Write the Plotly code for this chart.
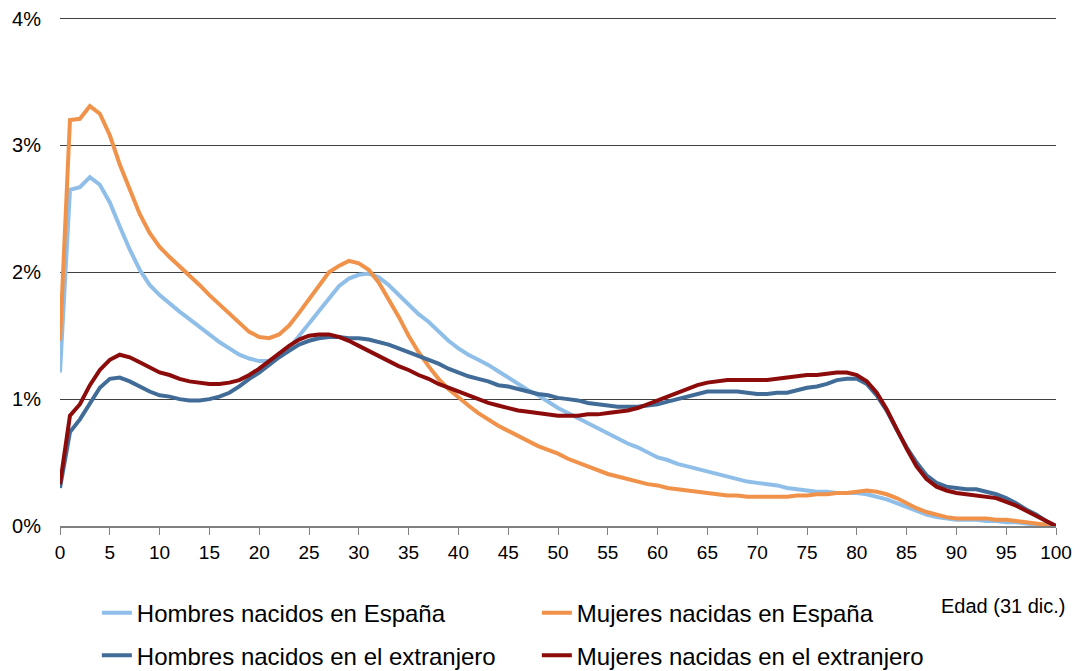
import plotly.graph_objects as go

edades = list(range(0, 101))

hombres_espana = [
    1.21, 2.65, 2.67, 2.75, 2.69, 2.55, 2.36, 2.18, 2.02, 1.90,
    1.82, 1.75, 1.69, 1.63, 1.57, 1.51, 1.45, 1.40, 1.35, 1.32,
    1.30, 1.30, 1.34, 1.40, 1.50, 1.60, 1.70, 1.80, 1.89, 1.95,
    1.98, 1.99, 1.96, 1.90, 1.82, 1.74, 1.67, 1.61, 1.53, 1.46,
    1.40, 1.35, 1.31, 1.27, 1.22, 1.17, 1.12, 1.07, 1.03, 0.98,
    0.93, 0.89, 0.85, 0.81, 0.77, 0.73, 0.69, 0.65, 0.62, 0.58,
    0.54, 0.52, 0.49, 0.47, 0.45, 0.43, 0.41, 0.39, 0.37, 0.35,
    0.34, 0.33, 0.32, 0.30, 0.29, 0.28, 0.27, 0.27, 0.26, 0.26,
    0.26, 0.25, 0.23, 0.21, 0.18, 0.15, 0.12, 0.09, 0.07, 0.06,
    0.05, 0.05, 0.05, 0.04, 0.04, 0.03, 0.03, 0.02, 0.01, 0.01,
    0.00,
]

mujeres_espana = [
    1.46, 3.20, 3.21, 3.31, 3.25, 3.08, 2.85, 2.65, 2.46, 2.31,
    2.20, 2.12, 2.05, 1.98, 1.90, 1.82, 1.75, 1.67, 1.60, 1.53,
    1.49, 1.48, 1.51, 1.58, 1.68, 1.79, 1.90, 2.00, 2.05, 2.09,
    2.07, 2.02, 1.92, 1.79, 1.65, 1.50, 1.37, 1.26, 1.16, 1.08,
    1.01, 0.95, 0.89, 0.84, 0.79, 0.75, 0.71, 0.67, 0.63, 0.60,
    0.57, 0.53, 0.50, 0.47, 0.44, 0.41, 0.39, 0.37, 0.35, 0.33,
    0.32, 0.30, 0.29, 0.28, 0.27, 0.26, 0.25, 0.24, 0.24, 0.23,
    0.23, 0.23, 0.23, 0.23, 0.24, 0.24, 0.25, 0.25, 0.26, 0.26,
    0.27, 0.28, 0.27, 0.25, 0.22, 0.18, 0.14, 0.11, 0.09, 0.07,
    0.06, 0.06, 0.06, 0.06, 0.05, 0.05, 0.04, 0.03, 0.02, 0.01,
    0.00,
]

hombres_extranjero = [
    0.30, 0.74, 0.84, 0.97, 1.09, 1.16, 1.17, 1.14, 1.10, 1.06,
    1.03, 1.02, 1.00, 0.99, 0.99, 1.00, 1.02, 1.05, 1.10, 1.16,
    1.21, 1.27, 1.33, 1.38, 1.43, 1.46, 1.48, 1.49, 1.49, 1.48,
    1.48, 1.47, 1.45, 1.43, 1.40, 1.37, 1.34, 1.31, 1.28, 1.24,
    1.21, 1.18, 1.16, 1.14, 1.11, 1.10, 1.08, 1.06, 1.04, 1.03,
    1.01, 1.00, 0.99, 0.97, 0.96, 0.95, 0.94, 0.94, 0.94, 0.95,
    0.96, 0.98, 1.00, 1.02, 1.04, 1.06, 1.06, 1.06, 1.06, 1.05,
    1.04, 1.04, 1.05, 1.05, 1.07, 1.09, 1.10, 1.12, 1.15, 1.16,
    1.16, 1.12, 1.03, 0.91, 0.76, 0.62, 0.50, 0.40, 0.34, 0.31,
    0.30, 0.29, 0.29, 0.27, 0.25, 0.22, 0.18, 0.13, 0.09, 0.04,
    0.00,
]

mujeres_extranjero = [
    0.33, 0.87, 0.96, 1.11, 1.23, 1.31, 1.35, 1.33, 1.29, 1.25,
    1.21, 1.19, 1.16, 1.14, 1.13, 1.12, 1.12, 1.13, 1.15, 1.19,
    1.24, 1.30, 1.36, 1.42, 1.47, 1.50, 1.51, 1.51, 1.49, 1.46,
    1.42, 1.38, 1.34, 1.30, 1.26, 1.23, 1.19, 1.16, 1.12, 1.09,
    1.06, 1.03, 1.00, 0.97, 0.95, 0.93, 0.91, 0.90, 0.89, 0.88,
    0.87, 0.87, 0.87, 0.88, 0.88, 0.89, 0.90, 0.91, 0.93, 0.96,
    0.99, 1.02, 1.05, 1.08, 1.11, 1.13, 1.14, 1.15, 1.15, 1.15,
    1.15, 1.15, 1.16, 1.17, 1.18, 1.19, 1.19, 1.20, 1.21, 1.21,
    1.19, 1.14, 1.05, 0.92, 0.76, 0.61, 0.47, 0.37, 0.31, 0.28,
    0.26, 0.25, 0.24, 0.23, 0.22, 0.19, 0.16, 0.12, 0.08, 0.04,
    0.00,
]

x_ticks = list(range(0, 101, 5))
y_ticks = [0, 1, 2, 3, 4]

FONT = "Liberation Sans, Arial, sans-serif"

series = [
    ("Hombres nacidos en España", hombres_espana, "#8FBFE8", "legend"),
    ("Mujeres nacidas en España", mujeres_espana, "#F0924A", "legend"),
    ("Hombres nacidos en el extranjero", hombres_extranjero, "#426C98", "legend2"),
    ("Mujeres nacidas en el extranjero", mujeres_extranjero, "#8C0B0B", "legend2"),
]

fig = go.Figure()
for name, vals, color, leg in series:
    fig.add_trace(go.Scatter(
        x=edades, y=vals, name=name, mode="lines",
        line=dict(color=color, width=4),
        legend=leg,
    ))

legend_common = dict(
    orientation="h", xanchor="left", yanchor="middle",
    entrywidth=395, entrywidthmode="pixels",
    font=dict(family=FONT, size=24, color="#000000"),
    bgcolor="rgba(0,0,0,0)", borderwidth=0, traceorder="normal",
)

fig.update_layout(
    width=1084, height=671,
    margin=dict(l=60, r=28, t=16, b=145, autoexpand=False),
    paper_bgcolor="white", plot_bgcolor="white",
    font=dict(family=FONT, color="#000000"),
    legend=dict(x=0.037, y=-0.171, **legend_common),
    legend2=dict(x=0.037, y=-0.254, **legend_common),
    xaxis=dict(
        range=[0, 100], tickvals=x_ticks, ticktext=[str(v) for v in x_ticks],
        showgrid=False, zeroline=False,
        showline=True, linecolor="#808080", linewidth=2,
        ticks="outside", ticklen=7, tickcolor="#808080", tickwidth=1,
        tickfont=dict(family=FONT, size=19, color="#000000"),
        ticklabelstandoff=1,
    ),
    yaxis=dict(
        range=[0, 4.02], tickvals=y_ticks, ticktext=[f"{v}%" for v in y_ticks],
        showgrid=True, gridcolor="#404040", gridwidth=1,
        zeroline=False, showline=False, ticks="",
        tickfont=dict(family=FONT, size=20, color="#000000"),
        ticklabelstandoff=18,
    ),
    annotations=[dict(
        text="Edad (31 dic.)", xref="paper", yref="paper",
        x=0.947, y=-0.156, xanchor="center", yanchor="middle",
        showarrow=False, font=dict(family=FONT, size=20, color="#000000"),
    )],
)

fig.write_html(
    "out.html",
    config={"displayModeBar": False},
    post_script="document.body.style.margin='0';",
)
